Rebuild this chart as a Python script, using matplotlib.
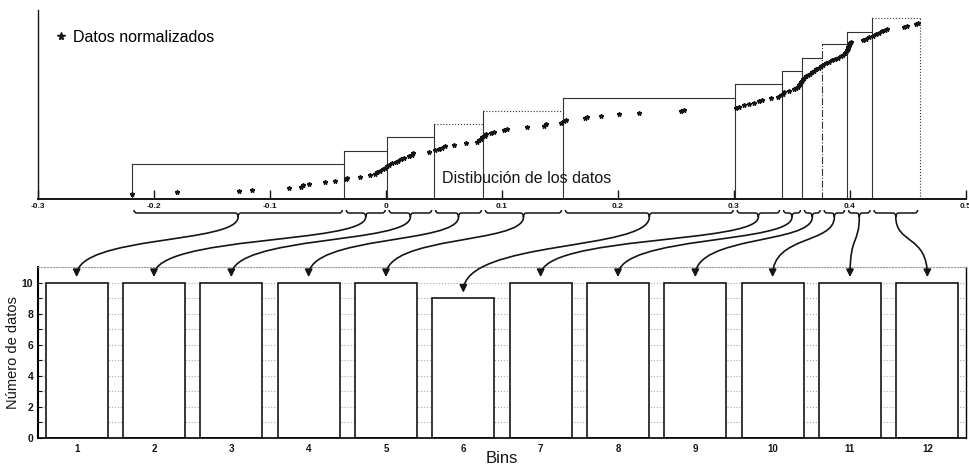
import numpy as np
import matplotlib.pyplot as plt
from matplotlib.path import Path
from matplotlib.patches import FancyArrowPatch, PathPatch

plt.rcParams['font.family'] = ['Liberation Sans', 'DejaVu Sans']

# datos normalizados ya ordenados, un renglon por bin
datos = [
    -0.219, -0.1805, -0.1265, -0.1155, -0.0834, -0.0733, -0.0713, -0.0667, -0.0526, -0.0437,
    -0.0345, -0.0333, -0.0224, -0.0138, -0.0092, -0.0075, -0.0049, -0.0029, -0.0006, 0.0007,
    0.0024, 0.0054, 0.0086, 0.0106, 0.0129, 0.0158, 0.0201, 0.0222, 0.0235, 0.0373,
    0.0425, 0.0459, 0.0485, 0.0511, 0.0589, 0.0690, 0.0787, 0.0804, 0.0817, 0.0830,
    0.0852, 0.0865, 0.0905, 0.0934, 0.1020, 0.1046, 0.1218, 0.1365, 0.1382, 0.1511,
    0.1537, 0.1555, 0.1718, 0.1735, 0.1853, 0.2011, 0.2184, 0.2542, 0.2568,
    0.3016, 0.3046, 0.3089, 0.3132, 0.3175, 0.3218, 0.3244, 0.3319, 0.3382, 0.3408,
    0.3421, 0.3434, 0.3477, 0.3520, 0.3537, 0.3550, 0.3558, 0.3567, 0.3576, 0.3584,
    0.3593, 0.3606, 0.3623, 0.3640, 0.3658, 0.3675, 0.3692, 0.3709, 0.3731, 0.3753,
    0.3770, 0.3796, 0.3822, 0.3848, 0.3873, 0.3899, 0.3925, 0.3942, 0.3955, 0.3964,
    0.3975, 0.3979, 0.3983, 0.3988, 0.3992, 0.3996, 0.4005, 0.4108, 0.4142, 0.4168,
    0.4197, 0.4227, 0.4253, 0.4279, 0.4305, 0.4322, 0.4469, 0.4495, 0.4573, 0.4590,
]

# bordes de los bins y altura de cada caja en la grafica superior
bordes = [-0.219, -0.036, 0.001, 0.041, 0.084, 0.153, 0.301, 0.341, 0.359, 0.376, 0.397, 0.419, 0.460]
alturas = [21.4, 30.6, 40.5, 49.2, 58.2, 67.4, 76.6, 85.8, 94.9, 104.2, 112.9, 122.1]
estilo_vert = ['-', '-', '-', '-', '-', '-', '-', '-', '-', '-.', '-', '-', ':']
estilo_top = ['-', '-', '-', ':', ':', '-', '-', '-', '-', '-', '-', ':']

# histograma inferior
bins = list(range(1, 13))
conteo = [10, 10, 10, 10, 10, 9, 10, 10, 10, 10, 10, 10]

ticks_sup = [-0.3, -0.2, -0.1, 0, 0.1, 0.2, 0.3, 0.4, 0.5]
ticks_sup_lbl = ['-0.3', '-0.2', '-0.1', '0', '0.1', '0.2', '0.3', '0.4', '0.5']

tinta = '#151515'
W, H = 970, 466
fig = plt.figure(figsize=(W / 100, H / 100), dpi=100)
fig.patch.set_facecolor('white')

# ---------------- grafica superior ----------------
ax = fig.add_axes([38 / W, 1 - 199 / H, 928 / W, 189 / H])
piso = -2.5
ax.set_xlim(-0.3, 0.5)
ax.set_ylim(piso, 127.8)
for s in ['top', 'right']:
    ax.spines[s].set_visible(False)
ax.spines['left'].set_linewidth(1.0)
ax.spines['bottom'].set_linewidth(1.4)
ax.spines['left'].set_color(tinta)
ax.spines['bottom'].set_color(tinta)
ax.set_yticks([])
ax.set_xticks(ticks_sup)
ax.set_xticklabels(ticks_sup_lbl, fontsize=6, fontweight='bold')
ax.tick_params(axis='x', direction='in', length=6.5, width=1.0, pad=3, colors=tinta)

for i in range(len(bordes)):
    h = alturas[min(i, len(alturas) - 1)]
    ax.plot([bordes[i], bordes[i]], [piso, h], ls=estilo_vert[i], color='#333333', lw=0.8)
for i in range(len(alturas)):
    ax.plot([bordes[i], bordes[i + 1]], [alturas[i], alturas[i]], ls=estilo_top[i],
            color='#333333', lw=0.8)

rango = np.arange(1, len(datos) + 1)
ax.plot(datos, rango, ls='none', marker='*', ms=3.3, color=tinta, label='Datos normalizados')
ax.legend(loc='center left', bbox_to_anchor=(0.018, 0.857), frameon=False, borderpad=0,
          borderaxespad=0, handlelength=0.8, handletextpad=0.35, markerscale=1.8,
          prop={'size': 11.5})
ax.text(0.526, 0.111, 'Distibución de los datos', transform=ax.transAxes, ha='center',
        va='center', fontsize=11.5, color=tinta)

# ---------------- grafica inferior ----------------
bx = fig.add_axes([38 / W, 1 - 438 / H, 928 / W, 171 / H])
bx.set_xlim(0.5, 12.5)
bx.set_ylim(0, 11)
bx.bar(bins, conteo, width=0.8, color='white', edgecolor=tinta, lw=1.2, zorder=2)
bx.set_axisbelow(True)
bx.set_yticks(range(0, 11, 2))
bx.set_yticks(range(0, 11), minor=True)
bx.yaxis.grid(True, which='both', ls=':', color='#aaaaaa', lw=0.8)
bx.set_yticklabels([str(v) for v in range(0, 11, 2)], fontsize=7.5, fontweight='bold')
bx.set_xticks(bins)
bx.set_xticklabels([str(b) for b in bins], fontsize=7, fontweight='bold')
bx.tick_params(axis='x', length=0, pad=4, colors=tinta)
bx.tick_params(axis='y', which='both', direction='in', length=3, width=0.8, colors=tinta)
bx.spines['left'].set_linewidth(1.5)
bx.spines['bottom'].set_linewidth(1.2)
bx.spines['right'].set_linewidth(1.0)
bx.spines['top'].set_linestyle(':')
bx.spines['top'].set_color('#999999')
bx.spines['top'].set_linewidth(0.8)
bx.set_xlabel('Bins', fontsize=12, labelpad=-2, color=tinta)
bx.set_ylabel('Número de datos', fontsize=10.5, color=tinta, labelpad=1)

# ---------------- llaves y flechas ----------------
a_fig = fig.transFigure.inverted()
y0 = ax.transAxes.transform((0, 0))[1]
for k in range(len(conteo)):
    xa = ax.transData.transform((bordes[k], 0))[0] + 2
    xb = ax.transData.transform((bordes[k + 1], 0))[0] - 2
    xm = 0.5 * (xa + xb)
    yb = y0 - 14
    yt = y0 - 18
    c = min(3, (xb - xa) / 4)
    verts = [(xa, y0 - 11), (xa, yb), (xa + c, yb), (xm - c, yb), (xm, yb), (xm, yt),
             (xm, yb), (xm + c, yb), (xb - c, yb), (xb, yb), (xb, y0 - 11)]
    codes = [Path.MOVETO, Path.CURVE3, Path.CURVE3, Path.LINETO, Path.CURVE3, Path.CURVE3,
             Path.CURVE3, Path.CURVE3, Path.LINETO, Path.CURVE3, Path.CURVE3]
    verts = a_fig.transform(verts)
    fig.add_artist(PathPatch(Path(verts, codes), fill=False, lw=1.1, color=tinta,
                             transform=fig.transFigure))

    x1, y1 = bx.transData.transform((bins[k], conteo[k] + 0.35))
    dy = yt - y1
    curva = [(xm, yt), (xm, yt - 0.45 * dy), (x1, yt - 0.3 * dy), (x1, y1)]
    curva = a_fig.transform(curva)
    flecha = FancyArrowPatch(path=Path(curva, [Path.MOVETO, Path.CURVE4, Path.CURVE4, Path.CURVE4]),
                             arrowstyle='-|>', mutation_scale=11, lw=1.2, color=tinta,
                             transform=fig.transFigure)
    fig.add_artist(flecha)

fig.savefig('out.png', dpi=100, facecolor='white')
